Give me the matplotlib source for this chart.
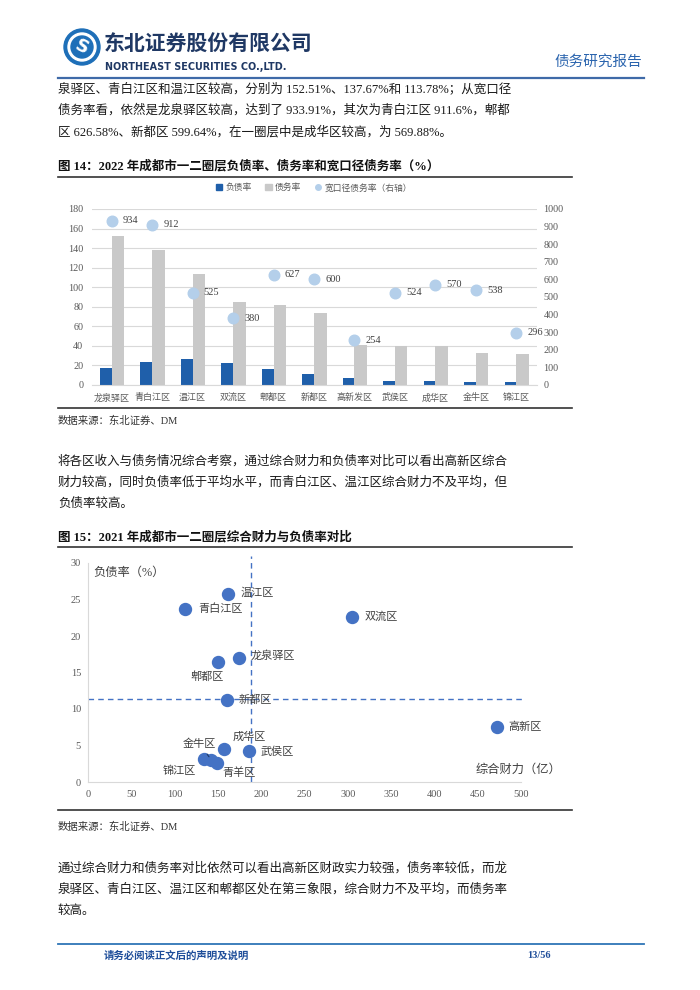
"""
成都市一二圈层债务分析页（图14、图15）
"""

import matplotlib
matplotlib.use('Agg')
import matplotlib.pyplot as plt
from matplotlib.lines import Line2D
from matplotlib.patches import Circle, Patch

W, H = 700, 990

# 图14：2022 年负债率、债务率、宽口径债务率（%）
districts = ['龙泉驿区', '青白江区', '温江区', '双流区', '郫都区', '新都区',
             '高新发区', '武侯区', '成华区', '金牛区', '锦江区']
liability_rate = [17.0, 23.7, 26.1, 22.7, 15.9, 11.2, 7.5, 4.4, 4.4, 2.7, 2.7]
debt_rate = [152.51, 137.67, 113.78, 84.4, 81.7, 73.2, 40.5, 40.3, 40.3, 33.2, 31.5]
broad_debt_rate = [933.91, 911.6, 525, 380, 626.58, 599.64, 254, 524, 569.88, 538, 296]

# 图15：2021 年综合财力（亿）与负债率（%）
scatter_names = ['温江区', '青白江区', '双流区', '龙泉驿区', '郫都区', '新都区',
                 '高新区', '成华区', '武侯区', '锦江区', '金牛区', '青羊区']
fiscal_power = [162, 112, 305, 174, 150, 160.5, 472, 157, 186, 134, 142.6, 149]
scatter_liability = [25.8, 23.7, 22.6, 17.0, 16.4, 11.3, 7.6, 4.5, 4.2, 3.2, 3.0, 2.6]
avg_fiscal_power = 188
avg_liability = 11.4

# 正文
para1 = ["泉驿区、青白江区和温江区较高，分别为 152.51%、137.67%和 113.78%；从宽口径",
         "债务率看，依然是龙泉驿区较高，达到了 933.91%，其次为青白江区 911.6%，郫都",
         "区 626.58%、新都区 599.64%，在一圈层中是成华区较高，为 569.88%。"]
para2 = ["将各区收入与债务情况综合考察，通过综合财力和负债率对比可以看出高新区综合",
         "财力较高，同时负债率低于平均水平，而青白江区、温江区综合财力不及平均，但",
         "负债率较高。"]
para3 = ["通过综合财力和债务率对比依然可以看出高新区财政实力较强，债务率较低，而龙",
         "泉驿区、青白江区、温江区和郫都区处在第三象限，综合财力不及平均，而债务率",
         "较高。"]

SERIF = ['Liberation Serif', 'Noto Sans CJK SC']
CJK = ['Noto Sans CJK SC', 'DejaVu Sans']
TICK_GRAY = '#595959'
NAVY = '#1F3864'
BLUE = '#2A64AE'

plt.rcParams['font.family'] = SERIF


def px_box(left, top, right, bottom):
    """像素框 -> figure 坐标"""
    return [left / W, 1 - bottom / H, (right - left) / W, (bottom - top) / H]


def draw_page(page):
    """页眉、正文、页脚"""
    # logo
    page.add_patch(Circle((82, 47), 18, color='#1E6FB8'))
    page.add_patch(Circle((82, 47), 14, color='white'))
    page.add_patch(Circle((82, 47), 11, color='#1E6FB8'))
    page.text(82, 47, 'S', color='white', fontsize=13, fontweight='bold',
              family='DejaVu Sans', ha='center', va='center', rotation=-25)

    page.text(104, 44, '东北证券股份有限公司', family=CJK, fontsize=15,
              fontweight='bold', color=NAVY, va='center')
    page.text(105, 67, 'NORTHEAST SECURITIES CO.,LTD.', family='DejaVu Sans',
              fontsize=6.9, fontweight='bold', color=NAVY, va='center')
    page.text(642, 62, '债务研究报告', family=CJK, fontsize=10.5,
              color=BLUE, ha='right', va='center')
    page.plot([58, 644], [78, 78], color='#3F6AA8', lw=1.6)

    def paragraph(lines, y0, step=21.5):
        for i, line in enumerate(lines):
            page.text(58, y0 + i * step, line, fontsize=9.0, color='#1a1a1a', va='center')

    paragraph(para1, 89)

    page.text(58, 166, '图 14：2022 年成都市一二圈层负债率、债务率和宽口径债务率（%）',
              fontsize=9.0, fontweight='bold', color='#111111', va='center')
    page.plot([58, 572], [177, 177], color='#333333', lw=1.2)
    page.plot([58, 572], [408, 408], color='#333333', lw=1.2)
    page.text(58, 421, '数据来源：东北证券、DM', fontsize=7.5, color='#333333', va='center')

    paragraph(para2, 461)

    page.text(58, 537, '图 15：2021 年成都市一二圈层综合财力与负债率对比',
              fontsize=9.0, fontweight='bold', color='#111111', va='center')
    page.plot([58, 572], [547, 547], color='#333333', lw=1.2)
    page.plot([58, 572], [810, 810], color='#333333', lw=1.2)
    page.text(58, 827, '数据来源：东北证券、DM', fontsize=7.5, color='#333333', va='center')

    paragraph(para3, 868)

    # 页脚
    page.plot([58, 644], [944, 944], color='#2E75B6', lw=1.3)
    page.text(104, 956, '请务必阅读正文后的声明及说明', fontsize=7.5, fontweight='bold',
              color='#1F4E9A', va='center')
    page.text(527, 956, '13/56', fontsize=7.5, fontweight='bold', color='#1F4E9A', va='center')


def draw_bars(fig):
    """图14：柱状 + 右轴散点"""
    ax = fig.add_axes(px_box(91.5, 209, 536.5, 385))
    x = list(range(len(districts)))
    ax.bar([i - 0.145 for i in x], liability_rate, width=0.29, color='#1F5FAA', zorder=2)
    ax.bar([i + 0.155 for i in x], debt_rate, width=0.31, color='#C9C9C9', zorder=2)
    ax.set_xlim(-0.5, len(districts) - 0.5)
    ax.set_ylim(0, 180)
    ax.set_yticks(range(0, 181, 20))
    ax.set_xticks(x)
    ax.set_xticklabels(districts)
    ax.tick_params(axis='both', length=0, labelcolor=TICK_GRAY)
    ax.tick_params(axis='x', pad=6, labelsize=6.5)
    ax.tick_params(axis='y', pad=6, labelsize=7.3)
    ax.yaxis.grid(True, color='#D9D9D9', lw=0.8)
    ax.set_axisbelow(True)
    for side in ['top', 'right', 'left']:
        ax.spines[side].set_visible(False)
    ax.spines['bottom'].set_color('#D9D9D9')

    ax2 = ax.twinx()
    ax2.scatter(x, broad_debt_rate, s=58, color='#B4CFEA', zorder=3)
    for i, v in zip(x, broad_debt_rate):
        ax2.annotate(f'{v:.0f}', (i, v), xytext=(8, 0), textcoords='offset points',
                     fontsize=7.5, color='#404040', va='center', ha='left')
    ax2.set_ylim(0, 1000)
    ax2.set_yticks(range(0, 1001, 100))
    ax2.tick_params(axis='y', length=0, labelsize=7.3, labelcolor=TICK_GRAY, pad=5)
    for side in ax2.spines:
        ax2.spines[side].set_visible(False)

    handles = [Patch(color='#1F5FAA'), Patch(color='#C9C9C9'),
               Line2D([], [], ls='', marker='o', ms=4, color='#B4CFEA')]
    ax.legend(handles, ['负债率', '债务率', '宽口径债务率（右轴）'], loc='center',
              bbox_to_anchor=(0.5, 1.12), ncol=3, frameon=False, fontsize=6.3,
              labelcolor=TICK_GRAY, handlelength=0.7, handleheight=0.7,
              handletextpad=0.4, columnspacing=1.6)


# 标签相对点的位移（像素）与对齐方式
LABEL_OFFSETS = {
    '温江区': (12, 1, 'left'), '青白江区': (13, 0, 'left'), '双流区': (12, 0, 'left'),
    '龙泉驿区': (12, 2, 'left'), '郫都区': (-11, -14, 'center'), '新都区': (12, 0, 'left'),
    '高新区': (12, 0, 'left'), '成华区': (25, 12, 'center'), '武侯区': (11, 0, 'left'),
    '锦江区': (-25, -12, 'center'), '金牛区': (-12, 16, 'center'), '青羊区': (22, -10, 'center'),
}


def draw_scatter(fig):
    """图15：综合财力与负债率散点"""
    ax = fig.add_axes(px_box(88, 563, 521, 782))
    ax.scatter(fiscal_power, scatter_liability, s=74, color='#4472C4', zorder=3)
    for name, xv, yv in zip(scatter_names, fiscal_power, scatter_liability):
        dx, dy, ha = LABEL_OFFSETS[name]
        arrow = dict(arrowstyle='-', color='#1F3864', lw=0.8, shrinkA=2, shrinkB=3) \
            if name == '金牛区' else None
        ax.annotate(name, (xv, yv), xytext=(dx * 0.72, dy * 0.72), textcoords='offset points',
                    fontsize=8, color='#404040', ha=ha, va='center', arrowprops=arrow,
                    zorder=4)

    dash = dict(color='#4472C4', lw=1.0, linestyle=(0, (4, 3)))
    ax.axvline(avg_fiscal_power, ymin=0, ymax=1.03, clip_on=False, **dash)
    ax.hlines(avg_liability, 0, 505, clip_on=False, **dash)

    ax.set_xlim(0, 500)
    ax.set_ylim(0, 30)
    ax.set_xticks(range(0, 501, 50))
    ax.set_yticks(range(0, 31, 5))
    ax.tick_params(axis='both', length=0, labelsize=7.5, labelcolor=TICK_GRAY)
    ax.tick_params(axis='x', pad=6)
    ax.tick_params(axis='y', pad=5)
    for side in ['top', 'right']:
        ax.spines[side].set_visible(False)
    for side in ['left', 'bottom']:
        ax.spines[side].set_color('#D9D9D9')

    ax.text(0.012, 0.955, '负债率（%）', transform=ax.transAxes, fontsize=8.8,
            color='#404040', ha='left', va='center')
    ax.text(0.894, 0.055, '综合财力（亿）', transform=ax.transAxes, fontsize=8.8,
            color='#404040', ha='left', va='center', clip_on=False)


def main():
    fig = plt.figure(figsize=(W / 100, H / 100), dpi=100)
    fig.patch.set_facecolor('white')

    page = fig.add_axes([0, 0, 1, 1])
    page.set_xlim(0, W)
    page.set_ylim(H, 0)
    page.axis('off')

    draw_page(page)
    draw_bars(fig)
    draw_scatter(fig)

    fig.savefig('out.png', dpi=100)


if __name__ == '__main__':
    main()
